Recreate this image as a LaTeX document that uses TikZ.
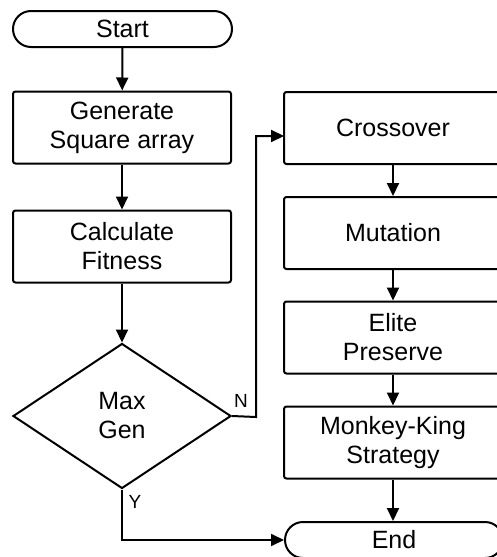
\documentclass[tikz,border=0pt]{standalone}
\usepackage{fontspec}
\setmainfont{Liberation Sans}
\usetikzlibrary{arrows.meta,shapes.geometric}
\tikzset{
  every picture/.style={line width=2pt},
  base/.style={draw=black, line width=2pt, align=center, inner sep=0pt,
    font=\fontsize{25}{29}\selectfont},
  term/.style={base, rounded corners=18pt, minimum width=219pt, minimum height=36pt},
  proc/.style={base, rounded corners=2.5pt, minimum width=218pt, minimum height=72pt},
  dec/.style={base, diamond, minimum width=218pt, minimum height=145pt, aspect=1.5},
  conn/.style={draw=black, line width=2pt, -{Triangle[length=13pt,width=12pt]}},
  lab/.style={font=\fontsize{19}{21}\selectfont, inner sep=0pt}
}
\begin{document}
\begin{tikzpicture}[x=1pt,y=-1pt]
\useasboundingbox (0,0) rectangle (497,557);
\clip (0,0) rectangle (497,557);
\fill[white] (0,0) rectangle (497,557);
\node[term] (start) at (122.5,29) {Start};
\node[proc] (gen) at (122,127.5) {Generate\\Square array};
\node[proc] (calc) at (122,246.5) {Calculate\\Fitness};
\node[dec] (max) at (122,416) {Max\\Gen};
\node[proc] (cross) at (393,128) {Crossover};
\node[proc] (mut) at (393,233) {Mutation};
\node[proc] (elite) at (393,337.5) {Elite\\Preserve};
\node[proc] (monkey) at (393,442.5) {Monkey-King\\Strategy};
\node[term, minimum width=218pt] (end) at (394,540) {End};
\coordinate (nr) at (256,417);
\coordinate (nt) at (256,136);
\coordinate (ce) at (284,136);
\coordinate (yb) at (122,540);
\draw[conn] (start) -- (gen);
\draw[conn] (gen) -- (calc);
\draw[conn] (calc) -- (max);
\draw[conn] (max.east) -- (nr) -- (nt) -- (ce);
\draw[conn] (cross) -- (mut);
\draw[conn] (mut) -- (elite);
\draw[conn] (elite) -- (monkey);
\draw[conn] (monkey.south) -- (monkey.south |- end.north);
\draw[conn] (max.south) -- (yb) -- (end.west);
\node[lab] (nlab) at (241,401) {N};
\node[lab] (ylab) at (135,502) {Y};
\end{tikzpicture}
\end{document}
